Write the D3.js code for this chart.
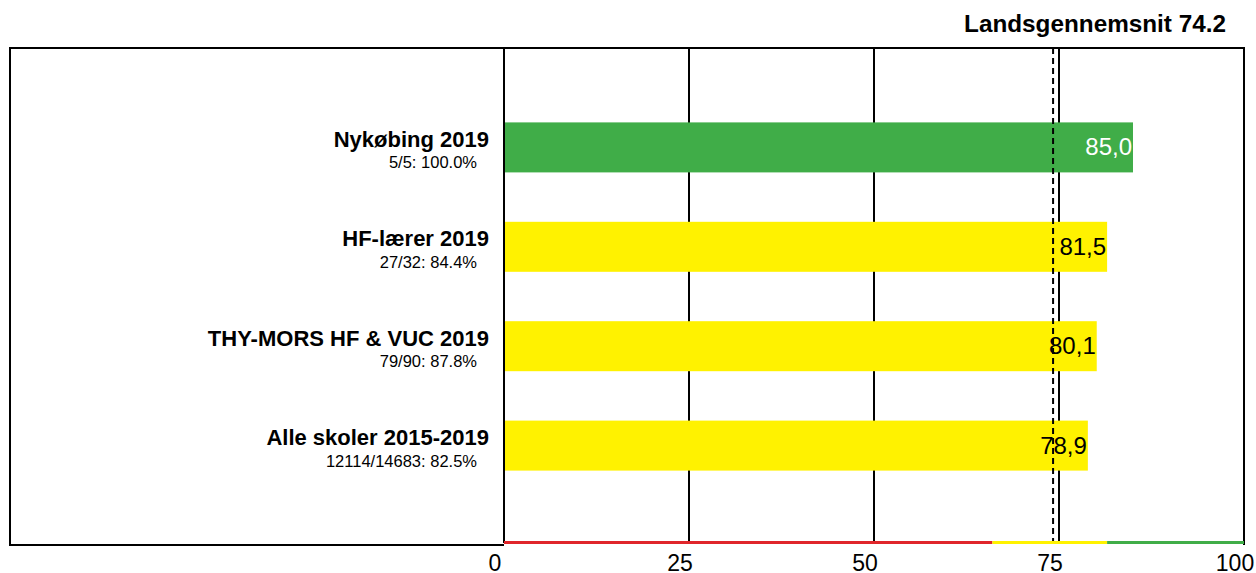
<!DOCTYPE html>
<html>
<head>
<meta charset="utf-8">
<script src="https://cdn.jsdelivr.net/npm/d3@7"></script>
<style>
  body { margin: 0; background: #fff; }
  svg { font-family: Arial, "Liberation Sans", sans-serif; }
</style>
</head>
<body>
<svg width="1256" height="573"></svg>
<script>
const schools = ["Nykøbing 2019", "HF-lærer 2019", "THY-MORS HF & VUC 2019", "Alle skoler 2015-2019"];
const details = ["5/5: 100.0%", "27/32: 84.4%", "79/90: 87.8%", "12114/14683: 82.5%"];
const scores = [85.0, 81.5, 80.1, 78.9];
const average = 74.2;
const ticks = [0, 25, 50, 75, 100];
// colour band thresholds under the axis
const bands = [[0, 66, "#e0262b"], [66, 81.5, "#fff200"], [81.5, 100, "#40ad48"]];

const svg = d3.select("svg");
const plotLeft = 10, plotTop = 48, plotBottom = 545;

const x = d3.scaleLinear().domain([0, 100]).range([504, 1244]);
const y = d3.scalePoint().domain(schools).range([plotTop, plotBottom]).padding(1);

// frame
svg.append("path")
  .attr("d", `M${x(0)},${plotBottom}H${plotLeft}V${plotTop}H${x(100)}V${plotBottom}`)
  .attr("fill", "none").attr("stroke", "#000").attr("stroke-width", 2);

// grid lines
svg.append("g").selectAll("line")
  .data(ticks.slice(0, 4))
  .join("line")
  .attr("x1", d => x(d)).attr("x2", d => x(d))
  .attr("y1", plotTop).attr("y2", plotBottom - 2)
  .attr("stroke", "#000").attr("stroke-width", 2);

// bars
svg.append("g").selectAll("rect")
  .data(scores)
  .join("rect")
  .attr("x", x(0) + 1)
  .attr("y", (d, i) => y(schools[i]) - 25)
  .attr("width", d => x(d) - x(0) - 1)
  .attr("height", 50)
  .attr("fill", d => d >= 85 ? "#40ad48" : "#fff200");

// average line
svg.append("line")
  .attr("x1", x(average)).attr("x2", x(average))
  .attr("y1", plotTop).attr("y2", plotBottom - 4)
  .attr("stroke", "#000").attr("stroke-width", 2)
  .attr("stroke-dasharray", "6,4");

// value labels
svg.append("g").selectAll("text")
  .data(scores)
  .join("text")
  .attr("x", d => x(d) - 1)
  .attr("y", (d, i) => y(schools[i]) + 8)
  .attr("text-anchor", "end")
  .attr("font-size", 24)
  .attr("fill", d => d >= 85 ? "#fff" : "#000")
  .text(d => d3.format(".1f")(d).replace(".", ","));

// category labels
const lab = svg.append("g");
lab.selectAll("text.name")
  .data(schools)
  .join("text")
  .attr("class", "name")
  .attr("x", 489)
  .attr("y", d => y(d) - 0.5)
  .attr("text-anchor", "end")
  .attr("font-size", 22).attr("font-weight", "bold")
  .text(d => d);
lab.selectAll("text.detail")
  .data(details)
  .join("text")
  .attr("class", "detail")
  .attr("x", 477)
  .attr("y", (d, i) => y(schools[i]) + 21)
  .attr("text-anchor", "end")
  .attr("font-size", 16.5)
  .text(d => d);

// colour band
svg.append("g").selectAll("line")
  .data(bands)
  .join("line")
  .attr("x1", d => x(d[0])).attr("x2", d => x(d[1]))
  .attr("y1", plotBottom - 2.5).attr("y2", plotBottom - 2.5)
  .attr("stroke", d => d[2]).attr("stroke-width", 3);

// axis tick labels
svg.append("g").selectAll("text")
  .data(ticks)
  .join("text")
  .attr("x", d => x(d) - 9)
  .attr("y", 570.5)
  .attr("text-anchor", "middle")
  .attr("font-size", 23)
  .text(d => d);

// title
svg.append("text")
  .attr("x", 1226).attr("y", 31.5)
  .attr("text-anchor", "end")
  .attr("font-size", 24.3).attr("font-weight", "bold")
  .text(`Landsgennemsnit ${average}`);
</script>
</body>
</html>
